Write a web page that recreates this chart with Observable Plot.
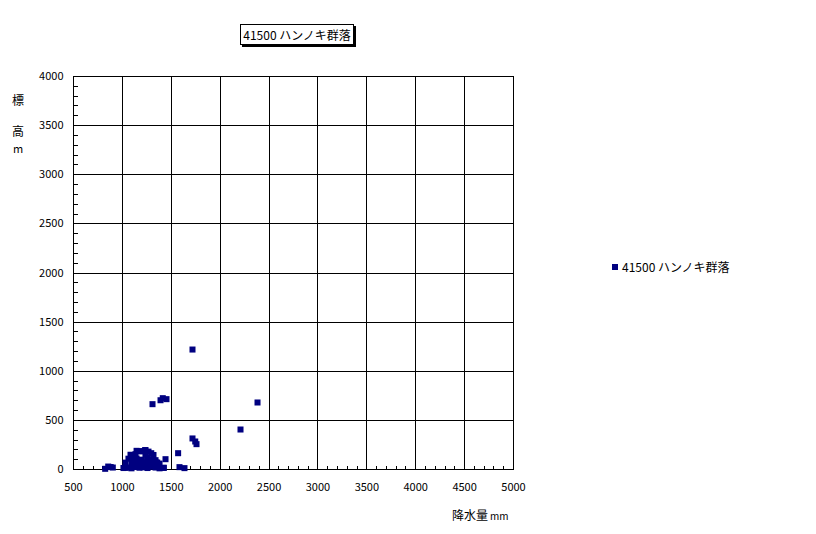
<!DOCTYPE html>
<html>
<head>
<meta charset="utf-8">
<script src="https://cdn.jsdelivr.net/npm/d3@7"></script>
<script src="https://cdn.jsdelivr.net/npm/@observablehq/plot@0.6"></script>
<style>
  body { margin: 0; background: #fff; }
  #wrap { position: relative; width: 816px; height: 534px; font-family: "Noto Sans CJK JP", sans-serif; color: #000; }
  #wrap svg { position: absolute; left: 0; top: 0; }
  .lbl { position: absolute; font-size: 12px; line-height: 14px; white-space: nowrap; }
  #title { left: 240px; top: 24px; width: 112px; height: 19px; border: 1px solid #000; box-shadow: 2px 2px 0 #000; background: #fff; text-align: center; line-height: 19px; }
  #legend { left: 612px; top: 260px; display: flex; align-items: center; }
  #legend .sw { width: 6px; height: 6px; background: #000080; margin-right: 4px; }
</style>
</head>
<body>
<div id="wrap">
  <div class="lbl" id="title">41500 ハンノキ群落</div>
  <div class="lbl" id="legend"><span class="sw"></span><span>41500 ハンノキ群落</span></div>
  <div class="lbl" style="left:12px;top:93px;">標</div>
  <div class="lbl" style="left:12px;top:124px;">高</div>
  <div class="lbl" style="left:13px;top:141px;font-size:11px;">m</div>
  <div class="lbl" style="left:452px;top:508px;">降水量<span style="font-size:10px;margin-left:2px;">mm</span></div>
</div>
<script>
// precipitation (mm)
const precipitation = [
  824, 855, 880, 902,
  1011, 1052, 1093, 1134, 1175, 1216, 1257, 1298, 1339, 1380, 1420,
  1032, 1093, 1134, 1175, 1216, 1257, 1298, 1339, 1380,
  1062, 1103, 1145, 1195, 1257, 1298, 1339,
  1083, 1124, 1236, 1318,
  1145, 1185, 1236, 1267,
  1090, 1178, 1233, 1295, 1134, 1253, 1356, 1424, 1032, 1441,
  1570, 1584, 1635,
  1717, 1745, 1758,
  1308, 1390, 1413, 1451,
  2208, 2382, 1717
];
// elevation (m)
const elevation = [
  7, 30, 25, 20,
  15, 20, 12, 25, 18, 22, 15, 28, 20, 12, 17,
  70, 65, 75, 68, 72, 66, 70, 74, 60,
  110, 105, 112, 100, 108, 104, 95,
  150, 145, 152, 148,
  190, 186, 197, 182,
  132, 186, 197, 166, 156, 119, 71, 17, 17, 105,
  166, 24, 14,
  316, 285, 258,
  665, 705, 726, 716,
  407, 682, 1221
];
const xTicks = d3.range(500, 5001, 500);
const yTicks = d3.range(0, 4001, 500);
const xMinor = d3.range(500, 5001, 100);
const yMinor = d3.range(0, 4001, 100);

const data = precipitation.map((p, i) => ({p, e: elevation[i]}));

const minorTicks = (index, {x, y}) => {
  const g = d3.create("svg:g").attr("stroke", "#000").attr("shape-rendering", "crispEdges").attr("transform", "translate(0.5,0.5)");
  for (const v of xMinor) g.append("line").attr("x1", x(v)).attr("x2", x(v)).attr("y1", y(0)).attr("y2", y(0) - 4);
  for (const v of yMinor) g.append("line").attr("x1", x(500)).attr("x2", x(500) + 4).attr("y1", y(v)).attr("y2", y(v));
  return g.node();
};

const chart = Plot.plot({
  width: 816,
  height: 534,
  marginLeft: 73,
  marginRight: 303,
  marginTop: 76,
  marginBottom: 65,
  style: {fontFamily: "'Noto Sans CJK JP', sans-serif", fontSize: "11px", background: "transparent", color: "#000"},
  x: {domain: [500, 5000]},
  y: {domain: [0, 4000]},
  marks: [
    Plot.gridX(xTicks, {stroke: "#000", strokeOpacity: 1, shapeRendering: "crispEdges"}),
    Plot.gridY(yTicks, {stroke: "#000", strokeOpacity: 1, shapeRendering: "crispEdges"}),
    Plot.frame({stroke: "#000", shapeRendering: "crispEdges"}),
    minorTicks,
    Plot.axisX(xTicks, {tickSize: 0, tickPadding: 14, label: null, fontSize: 11, tickFormat: d => String(d)}),
    Plot.axisY(yTicks, {tickSize: 0, tickPadding: 10, label: null, fontSize: 11, tickFormat: d => String(d)}),
    Plot.dot(data, {x: "p", y: "e", symbol: "square", r: 3.4, fill: "#000080", stroke: "none"})
  ]
});
document.getElementById("wrap").prepend(chart);
</script>
</body>
</html>
